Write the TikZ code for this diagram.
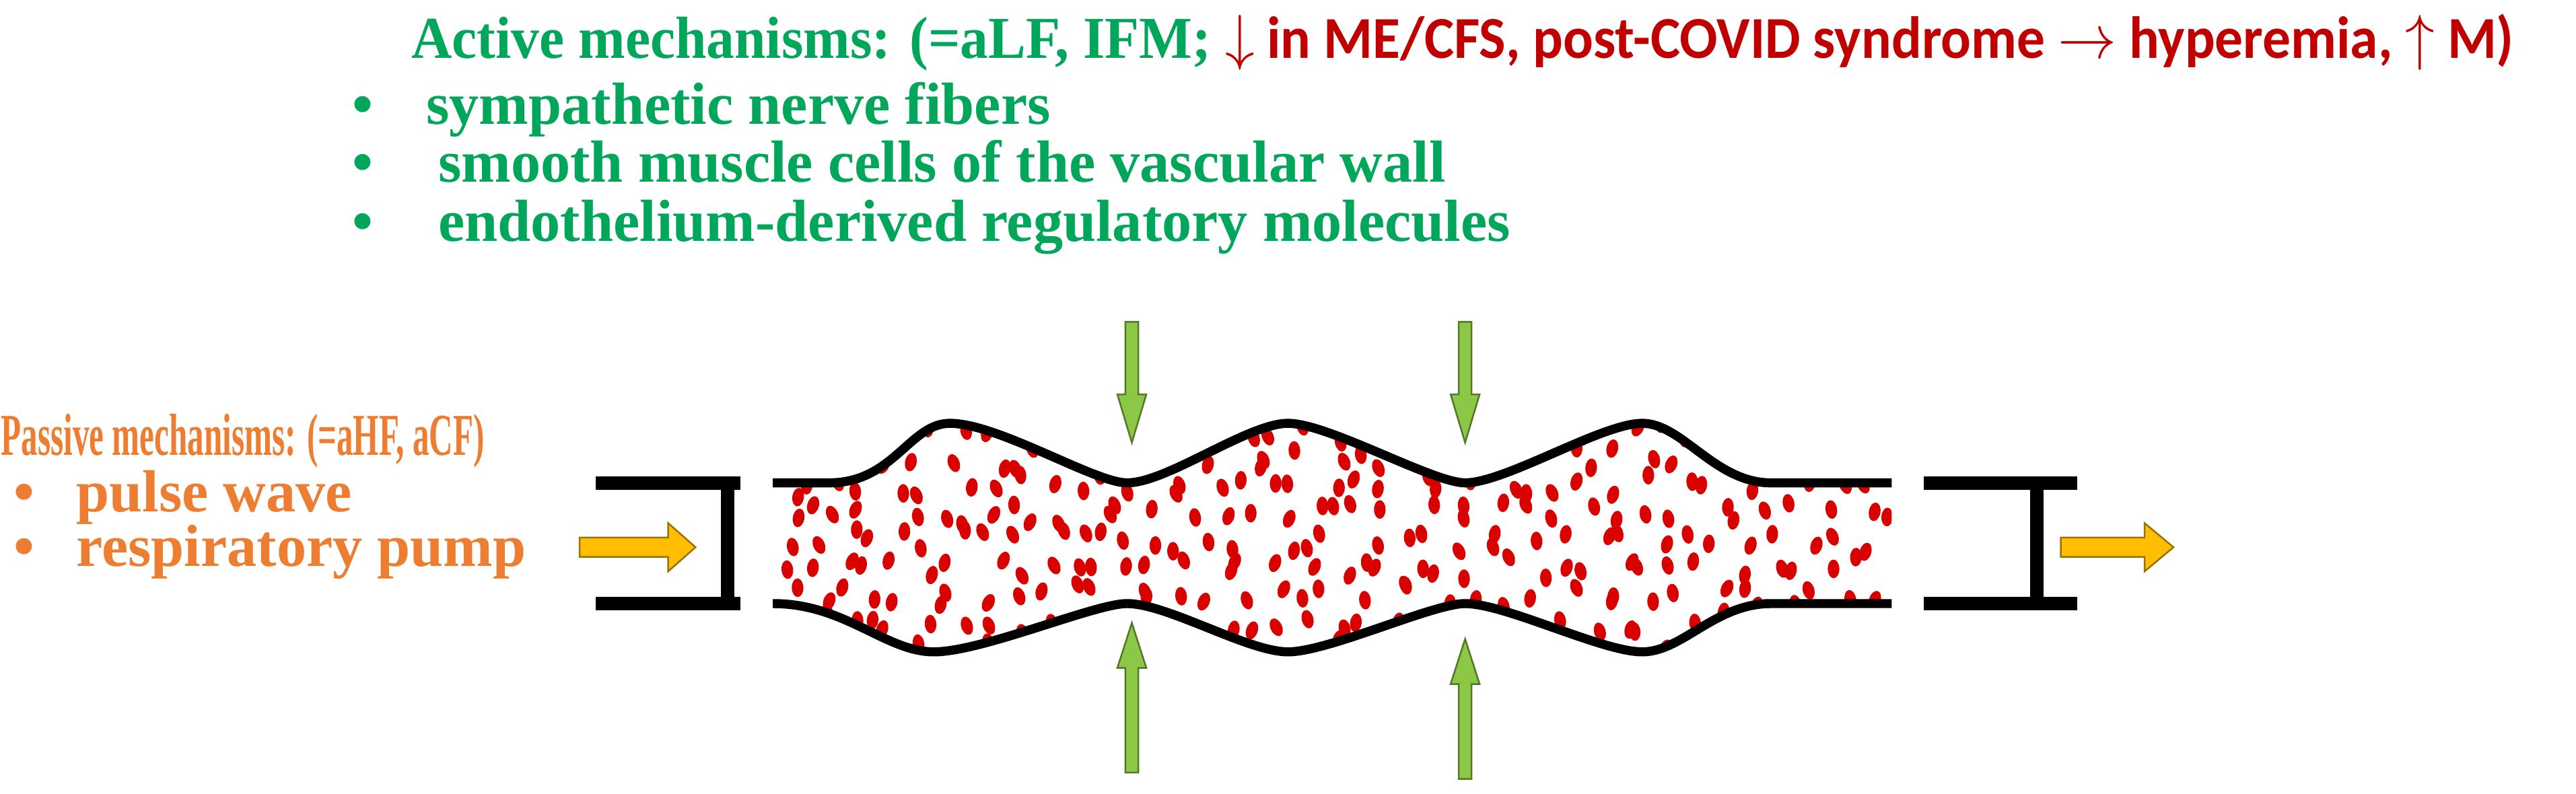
\documentclass[tikz,border=0pt]{standalone}
\usepackage{fontspec}
\usepackage{graphicx}
\setmainfont{Liberation Serif}
\newfontfamily\redf{Carlito}
\begin{document}
\definecolor{tg}{RGB}{0,166,90}
\definecolor{tr}{RGB}{192,0,0}
\definecolor{to}{RGB}{237,125,49}
\definecolor{ag}{RGB}{140,200,70}
\definecolor{ay}{RGB}{255,190,0}
\begin{tikzpicture}[x=0.01cm,y=-0.01cm,
  txt/.style={anchor=base west,inner sep=0,font=\fontsize{10.5}{12}\selectfont\bfseries},
  wall/.style={line width=1.6pt,black},
  bar/.style={line width=2.4pt,black},
  garrow/.style={fill=ag,draw=ag!60!black,line width=0.3pt},
  yarrow/.style={fill=ay,draw=ay!60!black,line width=0.3pt}]
\useasboundingbox (0,0) rectangle (1600,493);
% texts
\node[txt,text=tg] (t1) at (255,36) {\resizebox{13.05cm}{\height}{Active mechanisms: (=aLF, IFM; {\redf\color{tr}$\downarrow$ in ME/CFS, post-COVID syndrome $\rightarrow$ hyperemia, $\uparrow$ M)}}};
\node[txt,text=tg] (b1) at (218,77) {\textbullet\hspace{0.9em}sympathetic nerve fibers};
\node[txt,text=tg] (b2) at (218,113) {\textbullet\hspace{1.1em}smooth muscle cells of the vascular wall};
\node[txt,text=tg] (b3) at (218,150) {\textbullet\hspace{1.1em}endothelium-derived regulatory molecules};
\node[txt,text=to] (p0) at (0,283) {\resizebox{3.0cm}{\height}{\bfseries Passive mechanisms: (=aHF, aCF)}};
\node[txt,text=to] (p1) at (8,318) {\textbullet\hspace{0.7em}pulse wave};
\node[txt,text=to] (p2) at (8,352) {\textbullet\hspace{0.7em}respiratory pump};
% vessel shape
\def\topwall{(480,300)--(515,300) .. controls (555,300) and (565,263) .. (590,263) .. controls (620,263) and (680,300) .. (700,300) .. controls (725,300) and (775,263) .. (800,263) .. controls (825,263) and (890,300) .. (910,300) .. controls (935,300) and (995,263) .. (1020,263) .. controls (1045,263) and (1065,300) .. (1100,300) -- (1175,300)}
\def\botwall{(1175,375)--(1100,375) .. controls (1065,375) and (1045,405) .. (1020,405) .. controls (995,405) and (935,375) .. (910,375) .. controls (890,375) and (825,405) .. (800,405) .. controls (775,405) and (725,375) .. (700,375) .. controls (680,375) and (610,405) .. (580,405) .. controls (550,405) and (525,375) .. (480,375)}
\begin{scope}
\clip \topwall -- \botwall -- cycle;
\pgfmathsetseed{7}
\foreach \cx in {0,...,38}{
 \foreach \cy in {0,...,8}{
  \pgfmathsetmacro\xx{487+18*\cx+12*rand}
  \pgfmathsetmacro\yy{268+17*\cy+7*rand}
  \pgfmathsetmacro\rr{25*rand}
  \fill[red!85!black,rotate around={\rr:(\xx,\yy)}] (\xx,\yy) ellipse (3.6 and 5.8);
 }}
\end{scope}
\draw[wall] \topwall;
\draw[wall] \botwall;
% brackets
\draw[bar] (370,300)--(460,300);
\draw[bar] (370,375)--(460,375);
\draw[bar] (452,300)--(452,375);
\draw[bar] (1195,300)--(1290,300);
\draw[bar] (1195,375)--(1290,375);
\draw[bar] (1265,300)--(1265,375);
% yellow arrows
\draw[yarrow] (360,334)--(415,334)--(415,325)--(432,340)--(415,355)--(415,346)--(360,346)--cycle;
\draw[yarrow] (1280,334)--(1332,334)--(1332,325)--(1350,340)--(1332,355)--(1332,346)--(1280,346)--cycle;
% green arrows
\foreach \x/\ya/\yb/\yc in {703/200/245/275, 910/200/245/275}{
  \draw[garrow] (\x-4,\ya)--(\x+4,\ya)--(\x+4,\yb)--(\x+9,\yb)--(\x,\yc)--(\x-9,\yb)--(\x-4,\yb)--cycle;}
\foreach \x/\ya/\yb/\yc in {703/480/415/387, 910/484/425/397}{
  \draw[garrow] (\x-4,\ya)--(\x+4,\ya)--(\x+4,\yb)--(\x+9,\yb)--(\x,\yc)--(\x-9,\yb)--(\x-4,\yb)--cycle;}
\end{tikzpicture}
\end{document}
